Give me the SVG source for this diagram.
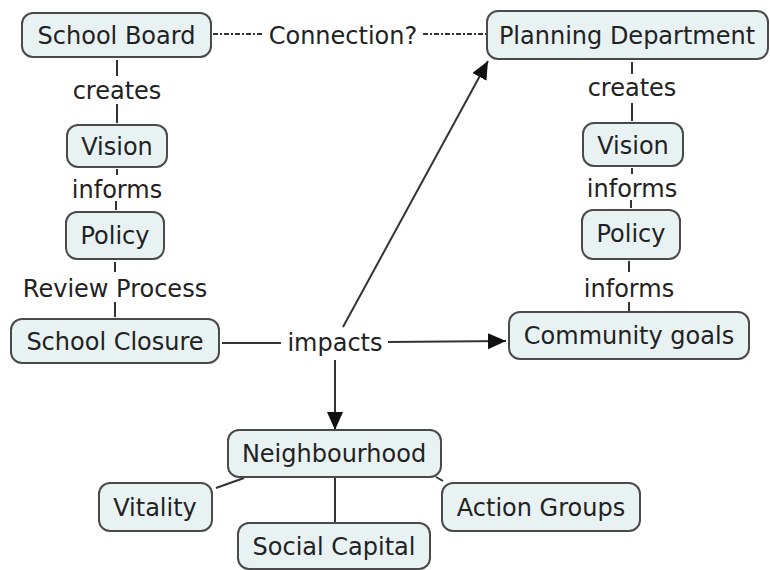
<svg xmlns="http://www.w3.org/2000/svg" width="770" height="570" viewBox="0 0 770 570">
<style>
  .box { fill: #e9f2f2; stroke: #4a4a4a; stroke-width: 2; }
  text { font-family: "DejaVu Sans", Verdana, sans-serif; font-size: 24px; fill: #222; text-anchor: middle; }
  .ln { stroke: #333; stroke-width: 2; fill: none; }
  .dash { stroke: #333; stroke-width: 1.8; fill: none; stroke-dasharray: 5 2 2 2; }
</style>
<defs>
  <marker id="arr" markerUnits="userSpaceOnUse" markerWidth="20" markerHeight="18" refX="18" refY="8" orient="auto">
    <path d="M0,0 L18,8 L0,16 z" fill="#111"/>
  </marker>
</defs>
<rect width="770" height="570" fill="#fff"/>
<g id="connectors">
  <line class="ln" x1="117" y1="60" x2="117" y2="76"/>
  <text x="117" y="99">creates</text>
  <line class="ln" x1="117" y1="104" x2="117" y2="123"/>
  <line class="ln" x1="117" y1="169" x2="117" y2="175"/>
  <text x="117" y="198">informs</text>
  <line class="ln" x1="116" y1="201" x2="116" y2="210"/>
  <line class="ln" x1="115" y1="262" x2="115" y2="272"/>
  <text x="115" y="297">Review Process</text>
  <line class="ln" x1="115" y1="302" x2="115" y2="317"/>
  <line class="dash" x1="213" y1="34" x2="262" y2="34"/>
  <text x="343" y="44">Connection?</text>
  <line class="dash" x1="423" y1="34" x2="487" y2="34"/>
  <line class="ln" x1="632" y1="62" x2="632" y2="74"/>
  <text x="632" y="96">creates</text>
  <line class="ln" x1="632" y1="103" x2="632" y2="121"/>
  <line class="ln" x1="632" y1="168" x2="632" y2="174"/>
  <text x="632" y="197">informs</text>
  <line class="ln" x1="631" y1="200" x2="631" y2="208"/>
  <line class="ln" x1="629" y1="261" x2="629" y2="272"/>
  <text x="629" y="297">informs</text>
  <line class="ln" x1="629" y1="302" x2="629" y2="311"/>
  <line class="ln" x1="222" y1="343" x2="281" y2="343"/>
  <text x="335" y="351">impacts</text>
  <line class="ln" x1="388" y1="342" x2="506" y2="341" marker-end="url(#arr)"/>
  <line class="ln" x1="335" y1="360" x2="335" y2="430" marker-end="url(#arr)"/>
  <line class="ln" x1="343" y1="327" x2="488" y2="61" marker-end="url(#arr)"/>
  <line class="ln" x1="216" y1="488" x2="244" y2="478"/>
  <line class="ln" x1="335" y1="478" x2="335" y2="522"/>
  <line class="ln" x1="436" y1="477" x2="443" y2="481"/>
</g>
<g id="school-board"><rect class="box" x="22" y="13" width="189" height="44" rx="11"/><text x="116.5" y="44">School Board</text></g>
<g id="planning-department"><rect class="box" x="487" y="11" width="281" height="48" rx="11"/><text x="627" y="44">Planning Department</text></g>
<g id="vision-left"><rect class="box" x="67" y="125" width="100" height="42" rx="11"/><text x="117" y="155">Vision</text></g>
<g id="policy-left"><rect class="box" x="66" y="212" width="98" height="47" rx="11"/><text x="115" y="244">Policy</text></g>
<g id="school-closure"><rect class="box" x="11" y="319" width="208" height="44" rx="11"/><text x="115" y="350">School Closure</text></g>
<g id="vision-right"><rect class="box" x="583" y="123" width="100" height="43" rx="11"/><text x="633" y="154">Vision</text></g>
<g id="policy-right"><rect class="box" x="582" y="210" width="98" height="49" rx="11"/><text x="631" y="242">Policy</text></g>
<g id="community-goals"><rect class="box" x="509" y="312" width="240" height="47" rx="11"/><text x="629" y="344">Community goals</text></g>
<g id="neighbourhood"><rect class="box" x="228" y="430" width="213" height="47" rx="11"/><text x="334" y="462">Neighbourhood</text></g>
<g id="vitality"><rect class="box" x="99" y="483" width="113" height="48" rx="11"/><text x="155" y="516">Vitality</text></g>
<g id="action-groups"><rect class="box" x="442" y="483" width="198" height="48" rx="11"/><text x="541" y="516">Action Groups</text></g>
<g id="social-capital"><rect class="box" x="238" y="523" width="192" height="46" rx="11"/><text x="334" y="555">Social Capital</text></g>
</svg>
